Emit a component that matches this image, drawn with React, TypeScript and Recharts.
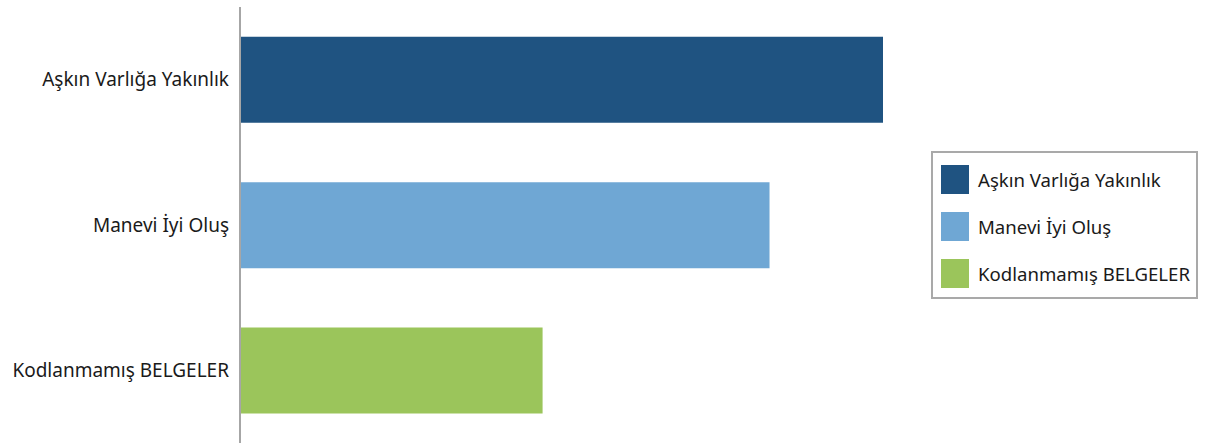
import { BarChart, Bar, XAxis, YAxis } from 'recharts';

const categories = ['Aşkın Varlığa Yakınlık', 'Manevi İyi Oluş', 'Kodlanmamış BELGELER'];
const seriesKeys = ['askin', 'manevi', 'kodlanmamis'];
const values = [17, 14, 8];
const colors = ['#1f5381', '#6fa7d4', '#9bc55b'];

const data = categories.map((name, i) => ({ name, [seriesKeys[i]]: values[i] }));

const FONT = '"Noto Sans", "Open Sans", sans-serif';

// legend drawn as a plain box on the right, like the original
function LegendBox() {
  return (
    <div
      style={{
        position: 'absolute',
        left: 931,
        top: 151,
        width: 263,
        height: 141,
        border: '2px solid #a9a9a9',
        background: '#fff',
        fontFamily: FONT,
        fontSize: 18.6,
        color: '#1a1a1a',
        paddingTop: 3,
        whiteSpace: 'nowrap',
      }}
    >
      {categories.map((c, i) => (
        <div key={c} style={{ display: 'flex', alignItems: 'center', height: 47, paddingLeft: 8 }}>
          <span
            style={{
              display: 'inline-block',
              width: 28,
              height: 29,
              background: colors[i],
              marginRight: 9,
            }}
          />
          <span>{c}</span>
        </div>
      ))}
    </div>
  );
}

export default function App() {
  return (
    <div style={{ position: 'fixed', left: 0, top: 0, width: 1216, height: 446, background: '#fff' }}>
      <BarChart
        width={1216}
        height={446}
        data={data}
        layout="vertical"
        barCategoryGap="20.5%"
        margin={{ top: 7, right: 333, bottom: 3, left: 0 }}
      >
        <XAxis type="number" domain={[0, 17]} hide />
        <YAxis
          type="category"
          dataKey="name"
          width={240}
          tickLine={false}
          tickMargin={5}
          axisLine={{ stroke: '#a6a6a6', strokeWidth: 2 }}
          tick={{ fill: '#1a1a1a', fontSize: 19, fontFamily: FONT }}
        />
        {seriesKeys.map((k, i) => (
          <Bar
            key={k}
            dataKey={k}
            name={categories[i]}
            stackId="s"
            fill={colors[i]}
            isAnimationActive={false}
          />
        ))}
      </BarChart>
      <LegendBox />
    </div>
  );
}
